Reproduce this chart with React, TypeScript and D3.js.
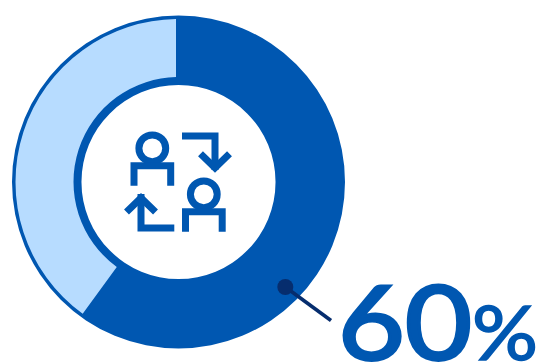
import React from "react";
import * as d3 from "d3";

// Share shown by the donut: highlighted part first, remainder second.
const shareLabels = ["highlighted", "remainder"];
const shareValues = [60, 40];
const valueNumber = "60";
const valueUnit = "%";

const WIDTH = 537;
const HEIGHT = 363;
const CX = 178.5;
const CY = 182;
const DARK = "#0057b1";
const LIGHT = "#b7dcff";
const NAVY = "#062d6e";

const pie = d3
  .pie<number>()
  .sort(null)
  .value((d) => d);

// Pale slice sits inside the solid ring, leaving a thin outline around it.
const ring = d3.arc<unknown>().innerRadius(97).outerRadius(166.5).startAngle(0).endAngle(2 * Math.PI);
const inset = d3.arc<d3.PieArcDatum<number>>().innerRadius(105).outerRadius(163);

function Person({ dx, dy }: { dx: number; dy: number }) {
  return (
    <g transform={`translate(${dx},${dy})`}>
      <circle cx={152.3} cy={148.3} r={13.4} />
      <path d="M134,185.7V165.8H170.7V185.7" />
    </g>
  );
}

export default function App() {
  const slices = pie(shareValues);
  const pale = slices[1];
  return (
    <svg
      width={WIDTH}
      height={HEIGHT}
      viewBox={`0 0 ${WIDTH} ${HEIGHT}`}
      style={{ position: "absolute", left: 0, top: 0 }}
    >
      <defs>
        {/* Keeps the pale slice's top edge vertical, just left of the centre line */}
        <clipPath id="pale-clip">
          <rect x={-CX} y={-CY} width={CX - 2.5} height={HEIGHT} />
        </clipPath>
      </defs>
      <g transform={`translate(${CX},${CY})`}>
        <path d={ring(null as never) ?? ""} fill={DARK} />
        <path d={inset(pale) ?? ""} fill={LIGHT} clipPath="url(#pale-clip)" data-name={shareLabels[1]} />
      </g>

      {/* Exchange icon: two people and two turning arrows */}
      <g fill="none" stroke={DARK} strokeWidth={7} strokeMiterlimit={4}>
        <Person dx={0} dy={0} />
        <Person dx={51.5} dy={46} />
        <path d="M182,136H215V170" />
        <path d="M200.5,153.7L215,167.8L229.5,153.7" />
        <path d="M174.3,228H141V194" />
        <path d="M126.5,212L141,197.9L155.5,212" />
      </g>

      {/* Callout from the dark slice to the value */}
      <line x1={285.3} y1={287} x2={331} y2={320.5} stroke={NAVY} strokeWidth={3.6} />
      <circle cx={285.3} cy={287} r={8} fill={NAVY} />

      <text y={359.5} fontFamily="Lato, sans-serif" fill={DARK} stroke={DARK} strokeLinejoin="miter">
        <tspan x={338} fontSize={103} strokeWidth={3} textLength={134} lengthAdjust="spacingAndGlyphs">
          {valueNumber}
        </tspan>
        <tspan x={472} fontSize={76} strokeWidth={1.6} textLength={66} lengthAdjust="spacingAndGlyphs">
          {valueUnit}
        </tspan>
      </text>
    </svg>
  );
}
